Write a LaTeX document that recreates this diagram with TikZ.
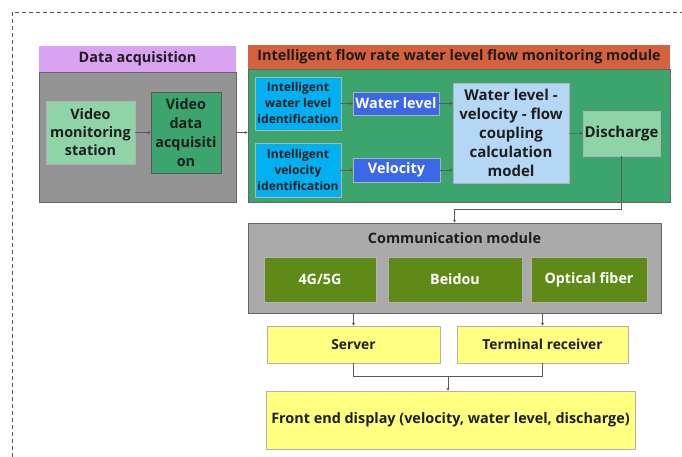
\documentclass[tikz,border=0pt]{standalone}
\usepackage{fontspec}
\setmainfont{Open Sans}
\usetikzlibrary{arrows.meta, positioning, calc}

\definecolor{titlepurple}{HTML}{D9A2F2}
\definecolor{panelgray}{HTML}{949494}
\definecolor{commgray}{HTML}{AAAAAA}
\definecolor{titlered}{HTML}{D5613E}
\definecolor{panelgreen}{HTML}{3BA56D}
\definecolor{lightgreen}{HTML}{8FD4A7}
\definecolor{boxcyan}{HTML}{00B0F0}
\definecolor{boxblue}{HTML}{3B68E6}
\definecolor{lightblue}{HTML}{B4D7F5}
\definecolor{olive}{HTML}{5F8A18}
\definecolor{paleyellow}{HTML}{FFFF80}
\definecolor{textdark}{HTML}{1E1E1E}

\newcommand{\fs}[2]{\fontsize{#1}{#2}\selectfont\bfseries}

\begin{document}
\begin{tikzpicture}[
      x=1pt, y=-1pt, >={Stealth[length=3pt,width=3pt]},
      block/.style={rectangle, draw=gray!60, line width=0.5pt, align=center, inner sep=1pt, text=textdark},
      panel/.style={rectangle, draw=gray!80!black, line width=0.6pt, inner sep=0pt},
      line/.style={draw=gray!70!black, line width=0.5pt, ->},
      plain/.style={draw=gray!70!black, line width=0.5pt}
    ]
    \useasboundingbox (0,0) rectangle (682,457);
    \draw[gray!70!black, dash pattern=on 4pt off 3pt, line width=0.5pt] (12,457) |- (682,12);

    % Data acquisition
    \node[panel, fill=panelgray, minimum width=197pt, minimum height=130pt] (dabody) at (137.5,137) {};
    \node[rectangle, fill=titlepurple, minimum width=197pt, minimum height=26pt, inner sep=0pt, font=\fs{14.4}{16}, text=textdark] (datitle) at (137.5,59) {Data acquisition};
    \node[block, fill=lightgreen, minimum width=89pt, minimum height=63pt, font=\fs{14.4}{18}] (vms) at (90.5,132.5) {Video\\monitoring\\station};
    \node[block, fill=panelgreen, draw=gray!70!black, minimum width=70pt, minimum height=81pt, font=\fs{14.4}{19}] (vda) at (186,132.5) {Video\\data\\acquisiti\\on};

    % Monitoring module
    \node[panel, fill=panelgreen, minimum width=422pt, minimum height=133pt] (imbody) at (459,135.5) {};
    \node[rectangle, fill=titlered, minimum width=422pt, minimum height=24pt, inner sep=0pt, font=\fs{14.4}{16}, text=textdark] (imtitle) at (459,57) {Intelligent flow rate water level flow monitoring module};
    \node[block, fill=boxcyan, minimum width=86pt, minimum height=53pt, font=\fs{12}{16}] (iwl) at (298,103.5) {Intelligent\\water level\\identification};
    \node[block, fill=boxcyan, minimum width=86pt, minimum height=54pt, font=\fs{12}{16}] (ivi) at (298,170) {Intelligent\\velocity\\identification};
    \node[block, fill=boxblue, minimum width=86pt, minimum height=23pt, font=\fs{14.4}{16}, text=white] (wl) at (396,103.5) {Water level};
    \node[block, fill=boxblue, minimum width=87pt, minimum height=24pt, font=\fs{14.4}{16}, text=white] (vel) at (396.5,170) {Velocity};
    \node[block, fill=lightblue, minimum width=116pt, minimum height=100pt, font=\fs{15}{19}] (model) at (511,133) {Water level -\\velocity - flow\\coupling\\calculation\\model};
    \node[block, fill=lightgreen, minimum width=77pt, minimum height=45pt, font=\fs{15}{17}] (dis) at (621.5,133.5) {Discharge};

    % Communication module
    \node[panel, fill=commgray, minimum width=413pt, minimum height=90pt] (comm) at (454.5,268) {};
    \node[font=\fs{14.4}{16}, text=textdark] (commtitle) at (454.5,238) {Communication module};
    \node[block, fill=olive, minimum width=112pt, minimum height=45pt, font=\fs{14.3}{16}, text=white] (net) at (320,279.5) {4G/5G};
    \node[block, fill=olive, minimum width=134pt, minimum height=45pt, font=\fs{14.3}{16}, text=white] (beidou) at (455,279.5) {Beidou};
    \node[block, fill=olive, minimum width=116pt, minimum height=45pt, font=\fs{14.3}{16}, text=white] (fiber) at (589,279.5) {Optical fiber};

    % Receivers and display
    \node[block, fill=paleyellow, minimum width=173pt, minimum height=37pt, font=\fs{13.8}{16}] (server) at (353.5,344.5) {Server};
    \node[block, fill=paleyellow, minimum width=171pt, minimum height=37pt, font=\fs{13.8}{16}] (terminal) at (542.5,344.5) {Terminal receiver};
    \node[block, fill=paleyellow, minimum width=369pt, minimum height=58pt, font=\fs{14.4}{16}] (display) at (450.5,420) {Front end display (velocity, water level, discharge)};

    % Connections
    \draw[line] (vms) -- (vda);
    \draw[line] (dabody.east |- vda) -- (imbody.west |- vda);
    \draw[line] (iwl) -- (wl);
    \draw[line] (wl) -- (model.west |- wl);
    \draw[line] (ivi) -- (vel);
    \draw[line] (vel) -- (model.west |- vel);
    \draw[line] (model) -- (dis);
    \draw[line] (dis.south) |- ($(comm.north)+(0,-13)$) -- (comm.north);
    \draw[line] (comm.south -| server) -- (server);
    \draw[line] (comm.south -| terminal) -- (terminal);
    \draw[plain] (server.south) -- ++(0,13) -| (terminal.south);
    \coordinate (join) at ($(server.south)!0.5!(terminal.south)+(0,13)$);
    \draw[line] (join) -- (join |- display.north);
\end{tikzpicture}
\end{document}
